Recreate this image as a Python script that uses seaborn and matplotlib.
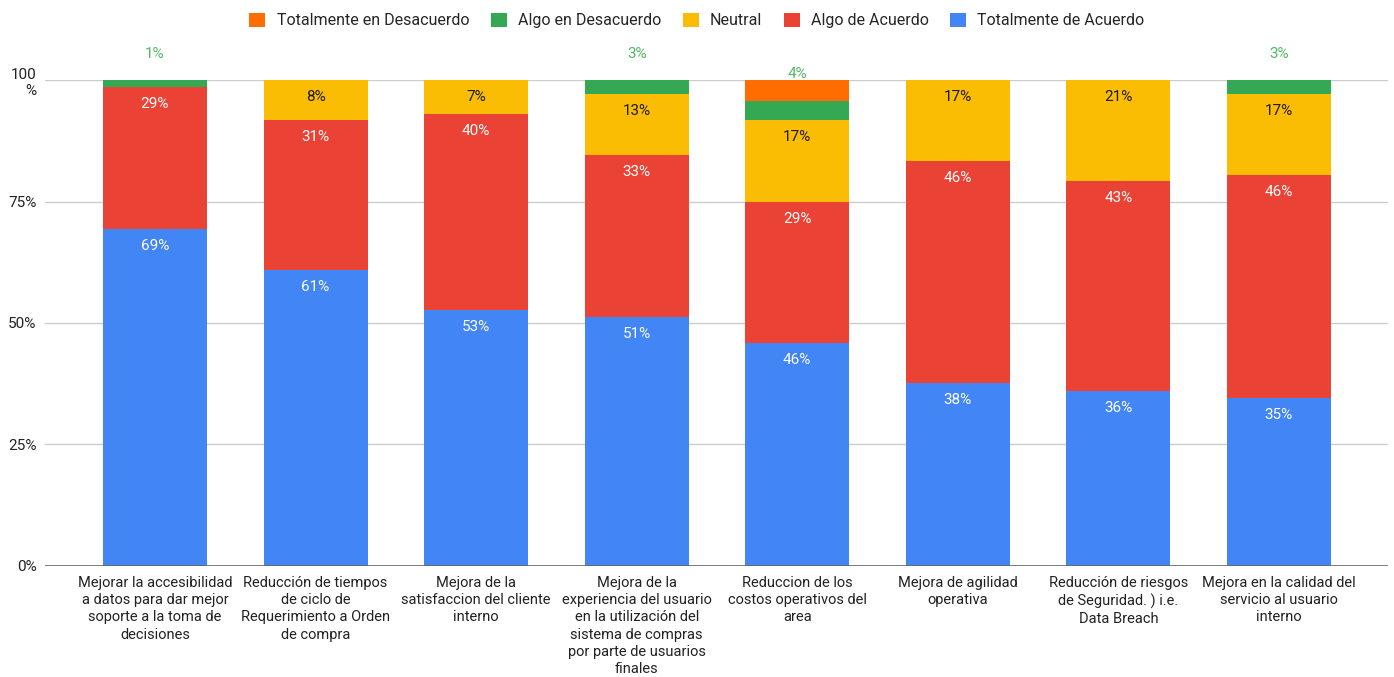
import matplotlib
matplotlib.use("Agg")
import matplotlib.pyplot as plt
import seaborn as sns
import pandas as pd
import numpy as np
from matplotlib.patches import Patch

categories = [
    "Mejorar la accesibilidad\na datos para dar mejor\nsoporte a la toma de\ndecisiones",
    "Reducción de tiempos\nde ciclo de\nRequerimiento a Orden\nde compra",
    "Mejora de la\nsatisfaccion del cliente\ninterno",
    "Mejora de la\nexperiencia del usuario\nen la utilización del\nsistema de compras\npor parte de usuarios\nfinales",
    "Reduccion de los\ncostos operativos del\narea",
    "Mejora de agilidad\noperativa",
    "Reducción de riesgos\nde Seguridad. ) i.e.\nData Breach",
    "Mejora en la calidad del\nservicio al usuario\ninterno",
]
totalmente_acuerdo = [69.4, 60.9, 52.7, 51.2, 45.9, 37.6, 36.0, 34.6]
algo_acuerdo = [29.2, 30.9, 40.3, 33.3, 29.0, 45.8, 43.2, 45.8]
neutral = [0.0, 8.2, 7.0, 12.6, 16.9, 16.6, 20.8, 16.7]
algo_desacuerdo = [1.4, 0.0, 0.0, 2.9, 3.9, 0.0, 0.0, 2.9]
totalmente_desacuerdo = [0.0, 0.0, 0.0, 0.0, 4.3, 0.0, 0.0, 0.0]

series_names = ["Totalmente en Desacuerdo", "Algo en Desacuerdo", "Neutral",
                "Algo de Acuerdo", "Totalmente de Acuerdo"]
colors = {"Totalmente en Desacuerdo": "#FF6D01", "Algo en Desacuerdo": "#34A853",
          "Neutral": "#FBBC04", "Algo de Acuerdo": "#EA4335",
          "Totalmente de Acuerdo": "#4285F4"}
label_colors = {"Totalmente de Acuerdo": "white", "Algo de Acuerdo": "white",
                "Neutral": "#1a1a1a", "Algo en Desacuerdo": "#52b866"}

sns.set_theme(style="white")
plt.rcParams["font.family"] = ["Roboto", "DejaVu Sans"]

fig = plt.figure(figsize=(13.94, 6.77), dpi=100)
ax = fig.add_axes([45 / 1394, 0.164, (1388 - 45) / 1394, 0.7178])

# bottom-to-top stacking order
stack = [("Totalmente de Acuerdo", totalmente_acuerdo), ("Algo de Acuerdo", algo_acuerdo),
         ("Neutral", neutral), ("Algo en Desacuerdo", algo_desacuerdo),
         ("Totalmente en Desacuerdo", totalmente_desacuerdo)]
vals = np.array([s[1] for s in stack])
cum = np.cumsum(vals, axis=0)
x_ids = list(range(len(categories)))

# draw from tallest cumulative to shortest so each layer is visible
for i in range(len(stack) - 1, -1, -1):
    name = stack[i][0]
    df = pd.DataFrame({"cat": x_ids, "top": cum[i]})
    sns.barplot(data=df, x="cat", y="top", color=colors[name], width=0.648,
                saturation=1, ax=ax, errorbar=None, linewidth=0, zorder=2)

# data labels
label_offset = 3.5
for i, (name, v) in enumerate(stack):
    for j in x_ids:
        val = v[j]
        if val <= 0:
            continue
        if name == "Algo en Desacuerdo":
            y = cum[-1][j] + (1.2 if totalmente_desacuerdo[j] > 0 else 5.3)
            ax.text(j, y, f"{val:.0f}%", ha="center", va="center", fontsize=11,
                    color=label_colors[name], clip_on=False, zorder=5)
        elif name in label_colors and val >= 5:
            ax.text(j, cum[i][j] - label_offset, f"{val:.0f}%", ha="center",
                    va="center", fontsize=11, color=label_colors[name], zorder=5)

ax.set_xlim(-0.685, len(categories) - 1 + 0.68)
ax.set_ylim(0, 100)
ax.set_yticks([0, 25, 50, 75, 100])
ax.set_yticklabels(["0%", "25%", "50%", "75%", "100\n%"], fontsize=11, color="#222222")
ax.set_xticks(x_ids)
ax.set_xticklabels(categories, fontsize=10.5, color="#222222", linespacing=1.3)
ax.tick_params(axis="y", length=0, pad=6)
ax.tick_params(axis="x", length=0, pad=7)
for yv in [25, 50, 75, 100]:
    ax.axhline(yv, color="#cccccc", linewidth=1, zorder=0)
ax.axhline(0, color="#666666", linewidth=1.2, zorder=3)
for s in ax.spines.values():
    s.set_visible(False)
ax.set_xlabel("")
ax.set_ylabel("")

handles = [Patch(facecolor=colors[n], edgecolor="none", label=n) for n in series_names]
fig.legend(handles=handles, loc="center", bbox_to_anchor=(0.5, 0.97), ncol=5,
           frameon=False, fontsize=11.5, handlelength=1.0, handleheight=1.0,
           columnspacing=1.35, handletextpad=0.7)

fig.savefig("out.png", dpi=100)
